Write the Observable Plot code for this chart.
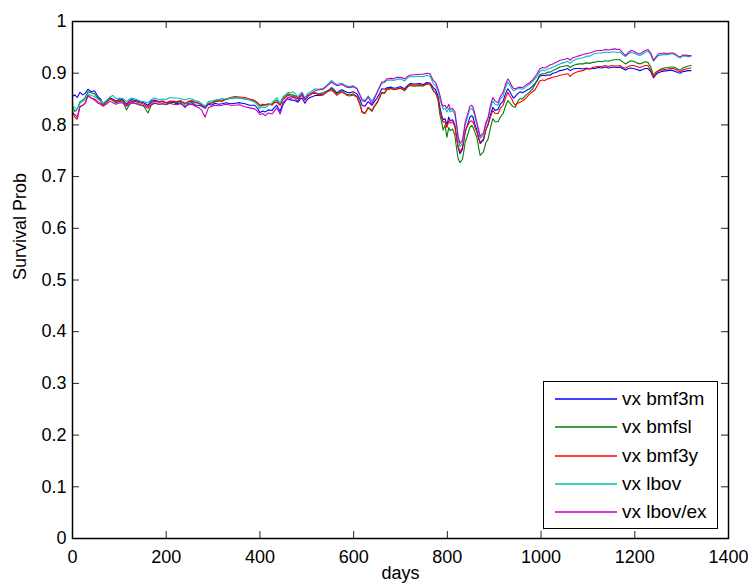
<!DOCTYPE html>
<html>
<head>
<meta charset="utf-8">
<script src="https://cdn.jsdelivr.net/npm/d3@7"></script>
<script src="https://cdn.jsdelivr.net/npm/@observablehq/plot@0.6"></script>
<style>
  html, body { margin: 0; padding: 0; background: white; }
  #wrap { position: relative; width: 748px; height: 588px; font-family: "Liberation Sans", Arial, sans-serif; }
  #wrap > svg { display: block; }
  #legend { position: absolute; left: 543px; top: 381px; width: 175px; height: 148px; box-sizing: border-box;
            border: 1.5px solid #000; background: #fff; }
  .lg-swatch { position: absolute; left: 11px; width: 62px; height: 4px; overflow: visible; }
  .lg-text { position: absolute; left: 78px; font-size: 19px; line-height: 20px; color: #000; white-space: nowrap; }
</style>
</head>
<body>
<div id="wrap"></div>
<script>
const seriesNames = ["vx bmf3m", "vx bmfsl", "vx bmf3y", "vx lbov", "vx lbov/ex"];
const seriesColors = ["#0000ff", "#008000", "#ff0000", "#00bfbf", "#bf00bf"];

const xTicks = [0, 200, 400, 600, 800, 1000, 1200, 1400];
const xTickLabels = ["0", "200", "400", "600", "800", "1000", "1200", "1400"];
const yTicks = [0, 0.1, 0.2, 0.3, 0.4, 0.5, 0.6, 0.7, 0.8, 0.9, 1];
const yTickLabels = ["0", "0.1", "0.2", "0.3", "0.4", "0.5", "0.6", "0.7", "0.8", "0.9", "1"];

const days = [
  0,5,10,16,22,27,33,40,47,54,
  60,65,72,80,86,93,101,108,115,121,126,
  135,144,152,161,168,175,184,193,200,208,
  215,222,231,240,248,255,262,270,276,283,
  290,297,304,312,319,328,337,347,357,368,
  378,389,395,400,406,411,418,426,431,436,
  443,449,455,460,466,471,476,481,486,490,
  496,502,507,513,518,526,535,544,553,558,
  564,570,575,581,586,592,599,607,613,618,
  624,631,639,645,650,655,660,666,671,680,
  686,692,700,709,715,720,730,741,748,756,
  763,770,775,780,784,788,791,795,799,803,
  806,811,816,820,823,827,832,835,838,843,
  848,852,855,859,863,867,870,874,877,882,
  887,892,897,902,908,913,919,924,929,933,
  937,941,945,950,955,960,966,971,976,982,
  987,992,997,1003,1008,1014,1019,1025,1030,1035,
  1040,1046,1051,1057,1062,1068,1075,1082,1090,1097,
  1104,1110,1115,1122,1130,1137,1144,1150,1157,1163,
  1168,1174,1180,1186,1192,1197,1204,1211,1217,1222,
  1228,1234,1240,1245,1250,1256,1262,1270,1276,1282,
  1288,1293,1297,1302,1308,1314,1320
];

const bmf3m = [
  .855,.858,.853,.863,.858,.861,.869,.864,.866,.855,
  .850,.840,.846,.852,.850,.846,.850,.848,.840,.846,.849,
  .847,.845,.843,.838,.846,.848,.845,.846,.843,.843,
  .844,.841,.843,.834,.842,.843,.838,.838,.836,.832,
  .840,.838,.842,.840,.841,.843,.841,.842,.843,.841,
  .838,.838,.832,.824,.827,.825,.829,.828,.834,.838,
  .826,.843,.848,.850,.848,.848,.846,.844,.850,.852,
  .842,.850,.853,.855,.857,.857,.858,.865,.872,.868,
  .862,.866,.868,.865,.863,.862,.864,.860,.850,.838,
  .836,.845,.838,.846,.852,.860,.870,.869,.872,.873,
  .871,.872,.874,.870,.876,.880,.879,.880,.878,.882,
  .881,.872,.868,.856,.835,.818,.810,.812,.800,.815,
  .808,.810,.800,.776,.756,.744,.752,.768,.786,.800,
  .815,.818,.814,.800,.790,.775,.764,.768,.770,.790,
  .802,.820,.834,.828,.830,.840,.846,.860,.870,.865,
  .858,.852,.855,.860,.864,.862,.865,.868,.870,.875,
  .880,.886,.894,.896,.895,.897,.896,.900,.901,.903,
  .905,.906,.907,.909,.905,.908,.909,.909,.908,.910,
  .908,.909,.909,.911,.910,.912,.910,.911,.912,.911,
  .912,.909,.906,.909,.910,.909,.907,.905,.907,.909,
  .909,.903,.891,.897,.901,.903,.904,.905,.906,.905,
  .903,.901,.900,.903,.904,.905,.905
];

const bmfsl = [
  .834,.826,.830,.845,.848,.853,.864,.862,.860,.852,
  .848,.838,.845,.852,.847,.843,.846,.844,.829,.838,.843,
  .842,.840,.836,.823,.838,.842,.840,.841,.840,.844,
  .845,.843,.846,.840,.845,.845,.843,.842,.838,.836,
  .841,.842,.845,.846,.848,.849,.851,.852,.852,.850,
  .849,.846,.842,.836,.838,.838,.840,.840,.845,.848,
  .839,.851,.856,.860,.858,.858,.856,.852,.857,.859,
  .850,.857,.859,.862,.862,.860,.862,.866,.870,.866,
  .860,.863,.866,.862,.859,.858,.860,.855,.842,.826,
  .822,.833,.826,.836,.842,.852,.862,.861,.868,.870,
  .868,.869,.871,.866,.873,.876,.875,.876,.875,.879,
  .878,.866,.861,.849,.820,.805,.790,.800,.776,.795,
  .789,.792,.780,.752,.735,.727,.733,.748,.766,.780,
  .795,.799,.795,.785,.776,.755,.741,.745,.748,.765,
  .773,.795,.812,.806,.806,.815,.822,.836,.847,.843,
  .838,.835,.834,.845,.851,.850,.856,.860,.864,.870,
  .878,.887,.897,.899,.899,.902,.902,.905,.907,.909,
  .912,.913,.914,.915,.911,.915,.917,.918,.918,.920,
  .919,.921,.921,.923,.922,.924,.923,.925,.926,.926,
  .926,.922,.918,.921,.924,.923,.920,.918,.920,.922,
  .921,.912,.896,.902,.905,.908,.910,.911,.912,.912,
  .910,.907,.906,.910,.912,.914,.915
];

const bmf3y = [
  .826,.815,.811,.835,.838,.842,.856,.852,.850,.845,
  .842,.838,.843,.850,.848,.845,.848,.846,.838,.843,.846,
  .845,.843,.840,.835,.843,.846,.844,.845,.843,.846,
  .846,.845,.847,.842,.846,.847,.844,.842,.838,.835,
  .842,.843,.846,.848,.845,.850,.853,.855,.854,.853,
  .850,.847,.843,.838,.840,.839,.841,.838,.843,.844,
  .838,.849,.853,.858,.855,.856,.853,.850,.855,.857,
  .848,.855,.858,.861,.861,.858,.859,.864,.867,.863,
  .857,.861,.863,.860,.857,.856,.858,.854,.840,.824,
  .822,.834,.828,.838,.844,.853,.863,.862,.870,.871,
  .869,.870,.871,.867,.874,.878,.877,.878,.876,.880,
  .879,.867,.862,.851,.828,.812,.805,.806,.795,.808,
  .803,.806,.797,.772,.758,.748,.756,.770,.788,.798,
  .806,.808,.805,.795,.786,.772,.766,.770,.773,.790,
  .800,.815,.828,.822,.822,.832,.838,.852,.863,.856,
  .851,.843,.838,.842,.844,.846,.850,.855,.860,.864,
  .868,.876,.885,.887,.886,.889,.890,.892,.893,.894,
  .896,.897,.898,.899,.894,.899,.902,.904,.905,.908,
  .908,.911,.912,.913,.913,.915,.913,.915,.914,.914,
  .915,.911,.910,.913,.915,.915,.913,.911,.913,.915,
  .915,.906,.893,.899,.904,.906,.907,.908,.909,.909,
  .907,.904,.903,.906,.908,.909,.910
];

const lbov = [
  .838,.833,.830,.842,.845,.850,.860,.857,.855,.850,
  .846,.841,.847,.854,.857,.851,.852,.851,.845,.849,.852,
  .850,.846,.845,.843,.849,.852,.849,.850,.849,.853,
  .852,.852,.851,.848,.851,.850,.847,.845,.841,.836,
  .845,.846,.848,.849,.851,.850,.852,.853,.852,.850,
  .848,.844,.838,.832,.835,.833,.838,.843,.848,.853,
  .842,.854,.859,.863,.862,.864,.860,.854,.861,.863,
  .852,.861,.863,.867,.870,.869,.871,.878,.886,.882,
  .878,.880,.880,.877,.875,.874,.876,.871,.860,.850,
  .847,.856,.846,.855,.862,.872,.880,.882,.886,.887,
  .886,.888,.889,.885,.891,.893,.893,.894,.893,.896,
  .894,.880,.876,.866,.850,.838,.830,.832,.825,.832,
  .825,.828,.820,.795,.772,.758,.764,.780,.800,.815,
  .830,.832,.828,.815,.800,.785,.774,.778,.780,.800,
  .812,.832,.846,.840,.838,.850,.856,.872,.883,.878,
  .871,.866,.868,.870,.870,.869,.872,.876,.879,.884,
  .889,.895,.903,.906,.905,.908,.909,.912,.914,.916,
  .918,.920,.921,.923,.919,.924,.927,.929,.930,.933,
  .933,.936,.938,.939,.939,.941,.940,.941,.941,.940,
  .941,.936,.932,.937,.940,.939,.936,.934,.937,.940,
  .943,.936,.923,.929,.934,.935,.936,.936,.937,.937,
  .934,.931,.930,.933,.933,.932,.933
];

const lbovEx = [
  .823,.820,.815,.836,.838,.842,.857,.852,.848,.842,
  .840,.836,.840,.846,.843,.840,.843,.842,.836,.840,.843,
  .841,.838,.837,.832,.840,.843,.840,.841,.839,.842,
  .840,.839,.841,.836,.839,.840,.836,.833,.828,.815,
  .833,.836,.838,.837,.838,.840,.838,.838,.839,.835,
  .833,.831,.826,.820,.822,.818,.823,.821,.827,.833,
  .821,.838,.847,.854,.851,.854,.850,.846,.854,.861,
  .848,.857,.860,.863,.866,.868,.869,.876,.883,.879,
  .876,.877,.878,.875,.873,.872,.874,.870,.858,.847,
  .845,.854,.841,.852,.863,.873,.883,.884,.889,.890,
  .889,.892,.892,.889,.894,.896,.897,.898,.898,.900,
  .899,.886,.882,.870,.858,.842,.836,.838,.832,.840,
  .830,.832,.826,.800,.778,.764,.770,.786,.805,.820,
  .836,.838,.834,.820,.805,.790,.778,.782,.784,.804,
  .815,.838,.853,.846,.843,.855,.863,.878,.889,.884,
  .876,.871,.870,.872,.873,.872,.876,.879,.882,.887,
  .893,.900,.908,.911,.910,.913,.916,.918,.920,.922,
  .925,.926,.927,.929,.925,.930,.932,.934,.936,.938,
  .939,.941,.943,.944,.944,.946,.945,.946,.947,.946,
  .946,.940,.934,.940,.944,.943,.939,.937,.941,.944,
  .946,.939,.925,.931,.937,.938,.939,.938,.939,.939,
  .936,.933,.931,.935,.935,.934,.934
];

const seriesValues = [bmf3m, bmfsl, bmf3y, lbov, lbovEx];

const rows = [];
seriesValues.forEach((vals, s) => {
  if (vals.length !== days.length) console.warn("length mismatch", seriesNames[s], vals.length, days.length);
  vals.forEach((v, i) => rows.push({day: days[i], value: v, series: seriesNames[s]}));
});

const font = "'Liberation Sans', Arial, Helvetica, sans-serif";

const chart = Plot.plot({
  width: 748,
  height: 588,
  marginLeft: 72,
  marginRight: 20,
  marginTop: 21,
  marginBottom: 50,
  style: {fontFamily: font, fontSize: "18px", background: "white", color: "black", overflow: "visible"},
  x: {domain: [0, 1400]},
  y: {domain: [0, 1]},
  color: {domain: seriesNames, range: seriesColors},
  marks: [
    Plot.line(rows, {x: "day", y: "value", z: "series", stroke: "series", strokeWidth: 1.1}),
    Plot.ruleX(xTicks, {x: d => d, y1: 0, y2: 0.0135, stroke: "#222", strokeWidth: 1}),
    Plot.ruleX(xTicks, {x: d => d, y1: 1, y2: 0.9865, stroke: "#222", strokeWidth: 1}),
    Plot.ruleY(yTicks, {y: d => d, x1: 0, x2: 15, stroke: "#222", strokeWidth: 1}),
    Plot.ruleY(yTicks, {y: d => d, x1: 1400, x2: 1385, stroke: "#222", strokeWidth: 1}),
    Plot.frame({stroke: "black", strokeWidth: 1.5}),
    Plot.axisX(xTicks, {tickSize: 0, tickPadding: 12, fontSize: 18, label: null,
      tickFormat: d => xTickLabels[xTicks.indexOf(d)]}),
    Plot.axisY(yTicks, {tickSize: 0, tickPadding: 6, fontSize: 18, label: null,
      tickFormat: d => yTickLabels[yTicks.indexOf(d)]}),
    Plot.text(["Survival Prob"], {text: d => d, frameAnchor: "left", dx: -52, rotate: -90, fontSize: 18, fill: "black"}),
    Plot.text(["days"], {text: d => d, frameAnchor: "bottom", dy: 40, fontSize: 18, fill: "black"})
  ]
});

const wrap = document.getElementById("wrap");
wrap.appendChild(chart);

const SVGNS = "http://www.w3.org/2000/svg";
const legend = document.createElement("div");
legend.id = "legend";
seriesNames.forEach((name, i) => {
  const cy = Math.round(17 + i * 28.3);
  const sw = document.createElementNS(SVGNS, "svg");
  sw.setAttribute("class", "lg-swatch");
  sw.setAttribute("width", "62");
  sw.setAttribute("height", "4");
  sw.style.top = (cy - 2) + "px";
  const ln = document.createElementNS(SVGNS, "line");
  ln.setAttribute("x1", "0"); ln.setAttribute("x2", "62");
  ln.setAttribute("y1", "2"); ln.setAttribute("y2", "2");
  ln.setAttribute("stroke", seriesColors[i]);
  ln.setAttribute("stroke-width", "1.4");
  sw.appendChild(ln);
  const txt = document.createElement("div");
  txt.className = "lg-text";
  txt.style.top = (cy - 10) + "px";
  txt.textContent = name;
  legend.appendChild(sw);
  legend.appendChild(txt);
});
wrap.appendChild(legend);
</script>
</body>
</html>
